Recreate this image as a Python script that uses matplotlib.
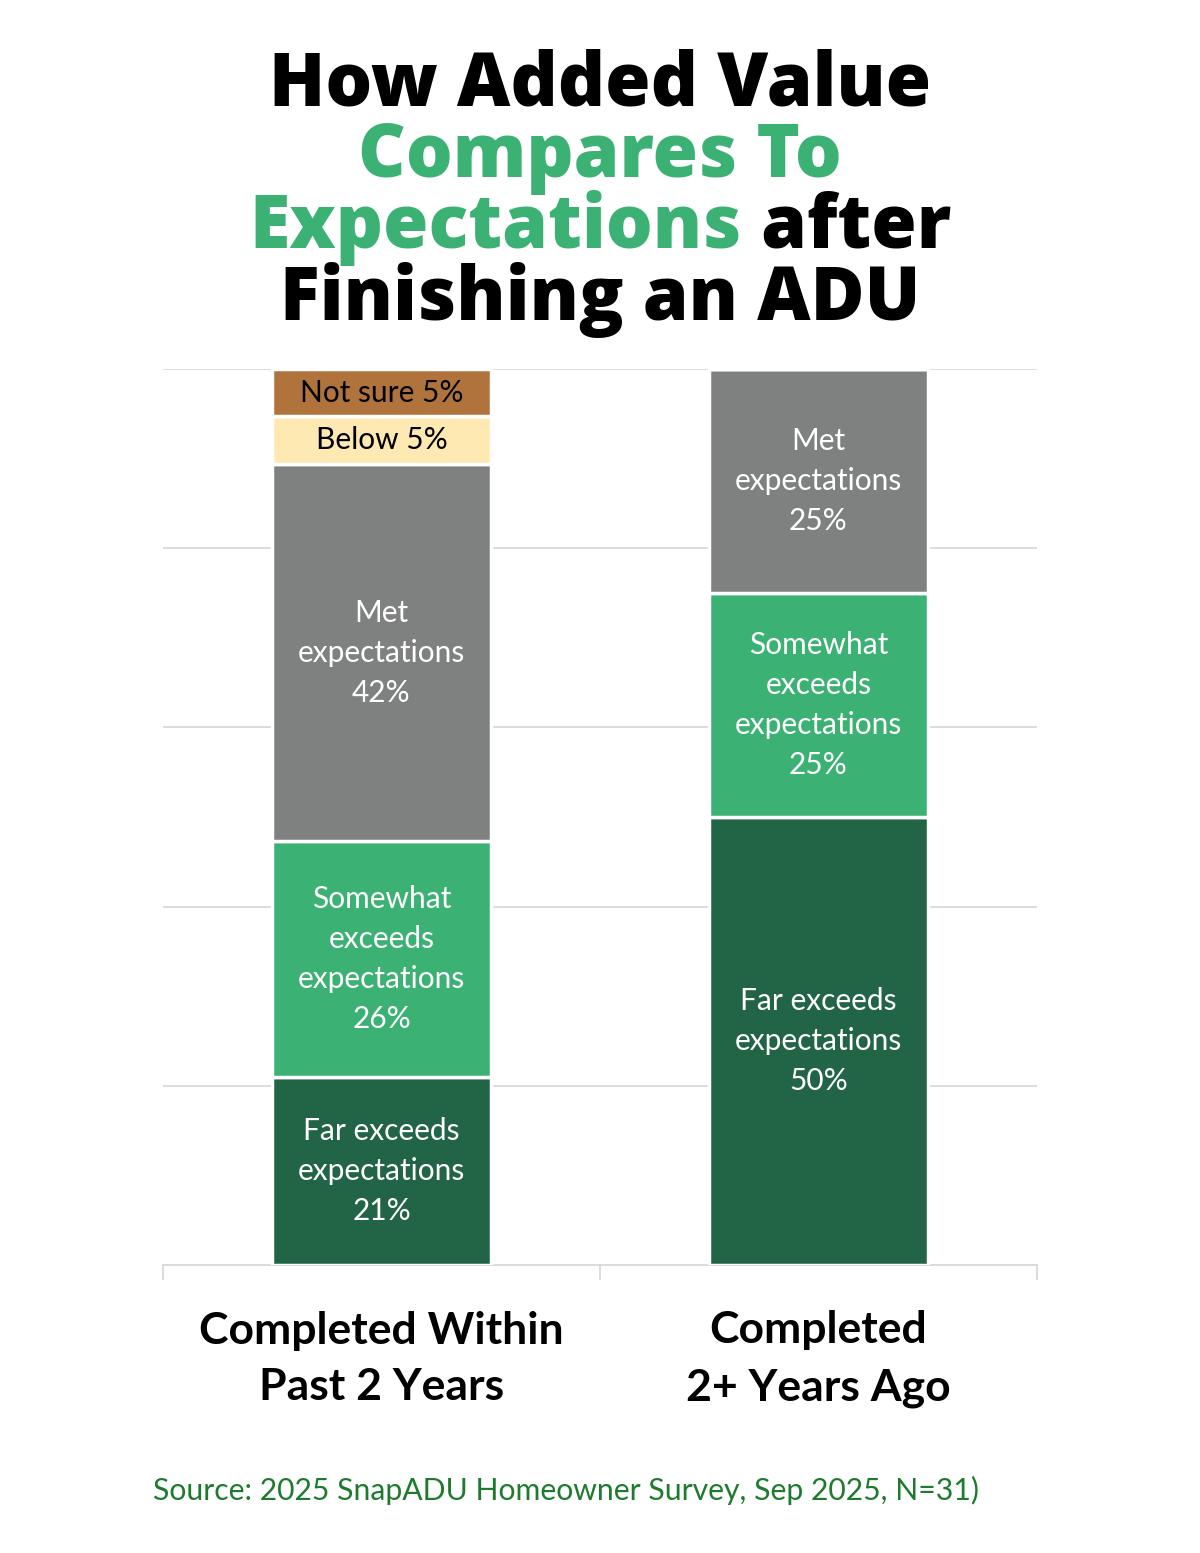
import matplotlib
matplotlib.use("Agg")
import matplotlib.pyplot as plt

# data
groups = ["Completed Within\nPast 2 Years", "Completed\n2+ Years Ago"]
segments = ["Far exceeds", "Somewhat exceeds", "Met", "Below", "Not sure"]
within_2 = [21, 26.3, 42.1, 5.3, 5.3]
over_2 = [50, 25, 25, 0, 0]
labels_within = ["Far exceeds\nexpectations\n21%", "Somewhat\nexceeds\nexpectations\n26%",
                 "Met\nexpectations\n42%", "Below 5%", "Not sure 5%"]
labels_over = ["Far exceeds\nexpectations\n50%", "Somewhat\nexceeds\nexpectations\n25%",
               "Met\nexpectations\n25%", "", ""]
colors = ["#216446", "#3CB174", "#7F8180", "#FFE9B3", "#B0733C"]
text_colors = ["white", "white", "white", "black", "black"]

green = "#3CB174"

fig = plt.figure(figsize=(12, 15.53), dpi=100)
ax = fig.add_axes([163 / 1200, 1 - 1265 / 1553, 874 / 1200, 896 / 1553])

x = [0, 1]
bottoms = [0, 0]
for i in range(len(segments)):
    vals = [within_2[i], over_2[i]]
    ax.bar(x, vals, width=0.5, bottom=bottoms, color=colors[i],
           edgecolor="white", linewidth=2.5, zorder=3)
    labs = [labels_within[i], labels_over[i]]
    for j in range(2):
        if vals[j] > 0:
            ax.text(x[j], bottoms[j] + vals[j] / 2, labs[j], ha="center", va="center",
                    color=text_colors[i], fontsize=21.5, family="Lato",
                    linespacing=1.52, zorder=4)
    bottoms = [bottoms[0] + vals[0], bottoms[1] + vals[1]]

ax.set_xlim(-0.5, 1.5)
ax.set_ylim(0, 100)
ax.set_yticks([20, 40, 60, 80, 100])
ax.yaxis.grid(True, color="#d9d9d9", linewidth=1.3, zorder=0)
ax.tick_params(axis="y", length=0, labelleft=False)
ax.set_xticks([-0.5, 0.5, 1.5])
ax.set_xticklabels([])
ax.tick_params(axis="x", length=11, width=1.3, color="#d9d9d9", direction="out")
for s in ["top", "left", "right"]:
    ax.spines[s].set_visible(False)
ax.spines["bottom"].set_color("#d9d9d9")
ax.spines["bottom"].set_linewidth(1.3)

for j in range(2):
    fig.text((163 + 437 * (j + 0.5)) / 1200, 1 - 1359 / 1553, groups[j], ha="center",
             va="center", fontsize=32, family="Lato", fontweight="bold", linespacing=1.5)

fig.text(566 / 1200, 1 - 1490 / 1553, "Source: 2025 SnapADU Homeowner Survey, Sep 2025, N=31)",
         ha="center", va="center", fontsize=21.7, family="Lato", color="#1E7B2E")

# title, four centred lines, the third one mixes two colours
title_kw = dict(fontsize=53, family="Open Sans", fontweight="heavy", va="baseline")
baselines = [105, 177, 248, 320]
fig.text(0.5, 1 - baselines[0] / 1553, "How Added Value", ha="center", color="black", **title_kw)
fig.text(0.5, 1 - baselines[1] / 1553, "Compares To", ha="center", color=green, **title_kw)
fig.text(0.5, 1 - baselines[3] / 1553, "Finishing an ADU", ha="center", color="black", **title_kw)

t1 = fig.text(0, 1 - baselines[2] / 1553, "Expectations", ha="left", color=green, **title_kw)
t2 = fig.text(0, 1 - baselines[2] / 1553, " after", ha="left", color="black", **title_kw)
r = fig.canvas.get_renderer()
w1 = t1.get_window_extent(r).width / 1200
w2 = t2.get_window_extent(r).width / 1200
start = 0.5 - (w1 + w2) / 2
t1.set_x(start)
t2.set_x(start + w1)

fig.savefig("out.png", dpi=100, facecolor="white")
